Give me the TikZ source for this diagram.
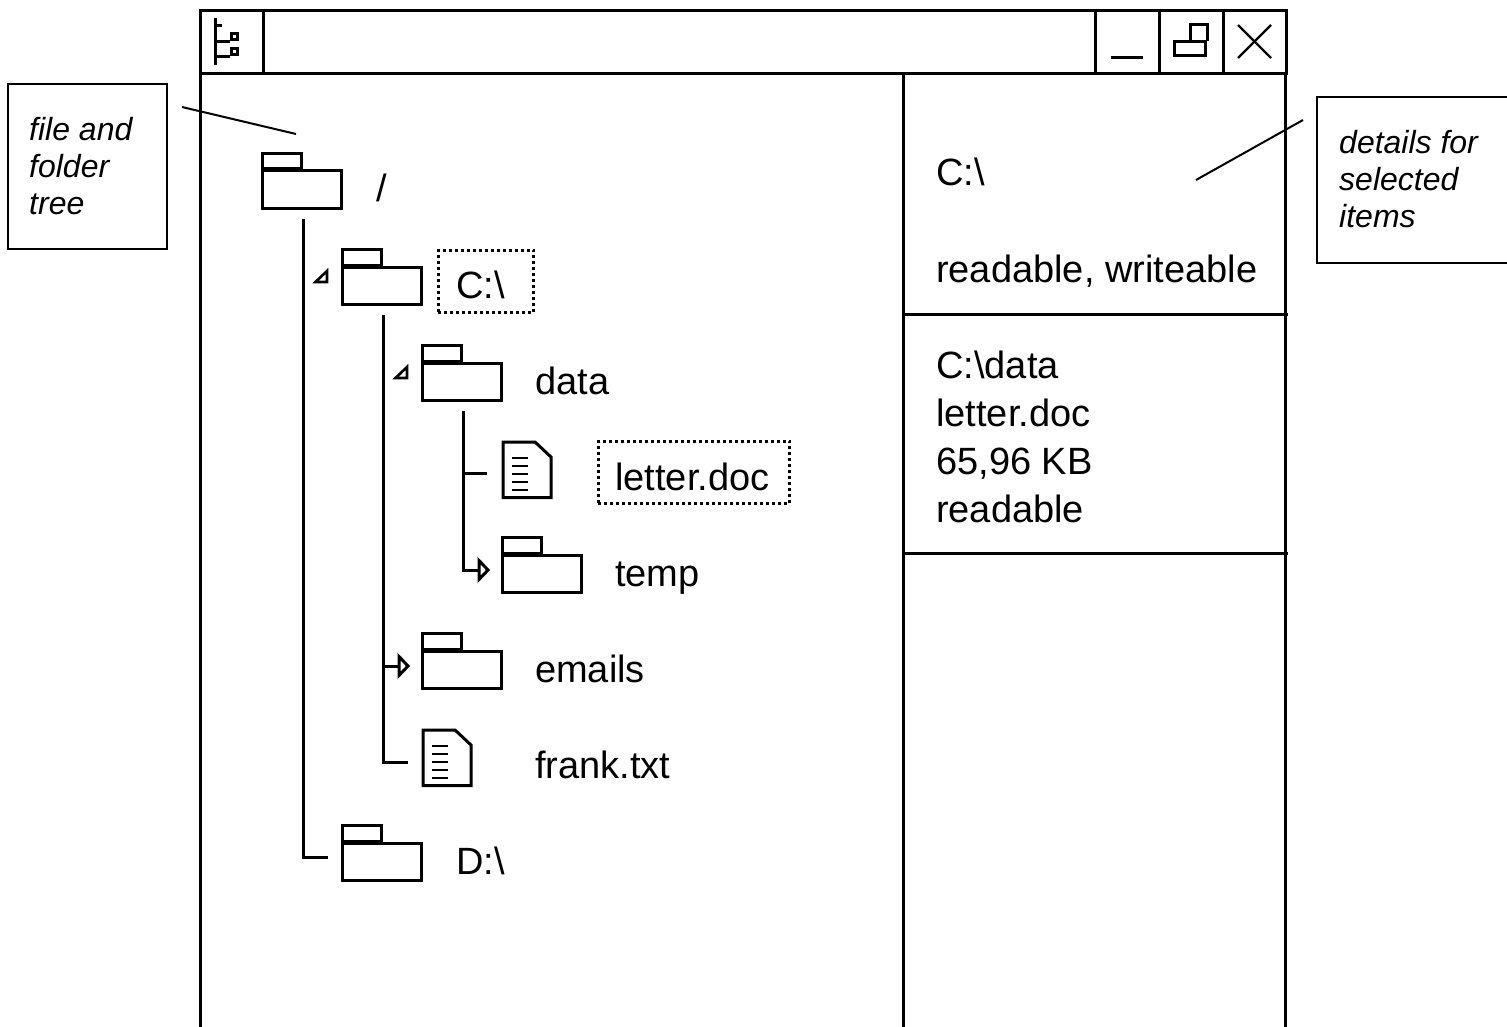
\documentclass[tikz,border=0pt]{standalone}
\usepackage{fontspec}
\setmainfont{Liberation Sans}
\tikzset{
  win/.style={line width=3pt,line cap=butt},
  thin line/.style={line width=2pt},
  tree/.style={line width=3pt},
  icon/.style={line width=3pt},
  label/.style={anchor=base west,inner sep=0pt,font=\fontsize{38}{38}\selectfont},
  note/.style={anchor=base west,inner sep=0pt,font=\fontsize{32}{32}\selectfont\itshape},
  selbox/.style={draw,line width=2.6pt,dash pattern=on 3pt off 3pt},
  callout/.style={draw,line width=2pt},
  folder/.pic={
    \draw[icon] (0,0) rectangle (39.5,15.5);
    \draw[icon] (0,17.5) rectangle (79.5,55);
  },
  docicon/.pic={
    \draw[icon,line join=miter] (0,0) -- (32,0) -- (48,15) -- (48,55.5) -- (0,55.5) -- cycle;
    \foreach \yy in {15.5,23.5,31.5,39.5,47.5}
      \draw[line width=2pt] (8.5,\yy) -- (24.5,\yy);
  },
  collapsed/.pic={\draw[line width=3pt,fill=white,line join=miter] (0,0) -- (9,9.5) -- (0,19) -- cycle;},
  expanded/.pic={\draw[line width=2.6pt,line join=miter] (1.5,14) -- (13,3) -- (13,14) -- cycle;}
}
\begin{document}
\begin{tikzpicture}[x=1pt,y=-1pt]
\useasboundingbox (0,0) rectangle (1507,1027);

% window frame
\draw[win] (200,1027) -- (200,11) -- (1286,11) -- (1286,74) -- (200,74);
\draw[win] (263,11) -- (263,74);
\draw[win] (1095,11) -- (1095,74);
\draw[win] (1159,11) -- (1159,74);
\draw[win] (1223,11) -- (1223,74);
\draw[win] (1285,74) -- (1285,1027);
\draw[win] (903,74) -- (903,1027);
\draw[win] (903,314) -- (1288,314);
\draw[win] (903,553) -- (1288,553);

% title bar icons
\draw[icon] (215,18) -- (215,65);
\draw[icon] (215,26) -- (222,26);
\draw[icon] (215,42) -- (230,42);
\draw[icon] (215,57) -- (230,57);
\draw[icon] (231,34) rectangle (237,40);
\draw[icon] (231,49) rectangle (237,55);
\draw[icon] (1111,58) -- (1143,58);
\draw[icon] (1174,42) rectangle (1205,56);
\draw[icon] (1190,42) -- (1190,25) -- (1207,25) -- (1207,41);
\draw[line width=2.2pt] (1238,25) -- (1271,58);
\draw[line width=2.2pt] (1271,25) -- (1238,58);

% folders and files
\pic at (262,153.5) {folder};
\pic at (342,249.5) {folder};
\pic at (422,345.5) {folder};
\pic at (502,537.5) {folder};
\pic at (422,633.5) {folder};
\pic at (342,825.5) {folder};
\pic at (503,442) {docicon};
\pic at (423,730) {docicon};

% tree connectors
\coordinate (rootA) at (303,219);
\coordinate (rootB) at (303,857);
\coordinate (rootC) at (328,857);
\coordinate (cA) at (383,315);
\coordinate (cB) at (383,762);
\coordinate (cC) at (408,762);
\coordinate (cM) at (383,666);
\coordinate (cN) at (398,666);
\coordinate (dA) at (463,411);
\coordinate (dB) at (463,570);
\coordinate (dC) at (478,570);
\coordinate (dM) at (463,473);
\coordinate (dN) at (487,473);
\draw[tree,line join=miter] (rootA) -- (rootB) -- (rootC);
\draw[tree,line join=miter] (cA) -- (cB) -- (cC);
\draw[tree] (cM) -- (cN);
\draw[tree,line join=miter] (dA) -- (dB) -- (dC);
\draw[tree] (dM) -- (dN);
\pic at (479,560.5) {collapsed};
\pic at (399,656.5) {collapsed};
\pic at (314,268) {expanded};
\pic at (394,364) {expanded};

% tree labels
\node[label] (lroot) at (376,202) {/};
\node[selbox,minimum width=95.5pt,minimum height=62.5pt,inner sep=0pt] (selC) at (486,281.5) {};
\node[label] (lc) at (456,298) {C:\textbackslash};
\node[label] (ldata) at (535,394) {data};
\node[selbox,minimum width=191.5pt,minimum height=62.5pt,inner sep=0pt] (selL) at (694,472.5) {};
\node[label] (lletter) at (615,490) {letter.doc};
\node[label] (ltemp) at (615,586) {temp};
\node[label] (lemails) at (535,682) {emails};
\node[label] (lfrank) at (535,778) {frank.txt};
\node[label] (ld) at (456,874) {D:\textbackslash};

% details panel
\node[label] (p1) at (936,186) {C:\textbackslash};
\node[label] (p2) at (936,282) {readable, writeable};
\node[label] (p3) at (936,378) {C:\textbackslash data};
\node[label] (p4) at (936,426) {letter.doc};
\node[label] (p5) at (936,474) {65,96 KB};
\node[label] (p6) at (936,522) {readable};

% callouts
\node[callout,minimum width=159pt,minimum height=165pt,inner sep=0pt] (noteL) at (87.5,166.5) {};
\node[note] (nl1) at (29,140.7) {file and};
\node[note] (nl2) at (29,177.7) {folder};
\node[note] (nl3) at (29,214.7) {tree};
\coordinate (lA) at (182,107);
\coordinate (lB) at (296,134);
\draw[thin line] (lA) -- (lB);
\node[callout,minimum width=200pt,minimum height=166pt,inner sep=0pt] (noteR) at (1417,180) {};
\node[note] (nr1) at (1339,153.7) {details for};
\node[note] (nr2) at (1339,190.7) {selected};
\node[note] (nr3) at (1339,227.7) {items};
\coordinate (rA) at (1303,120);
\coordinate (rB) at (1196,180);
\draw[thin line] (rA) -- (rB);
\end{tikzpicture}
\end{document}
